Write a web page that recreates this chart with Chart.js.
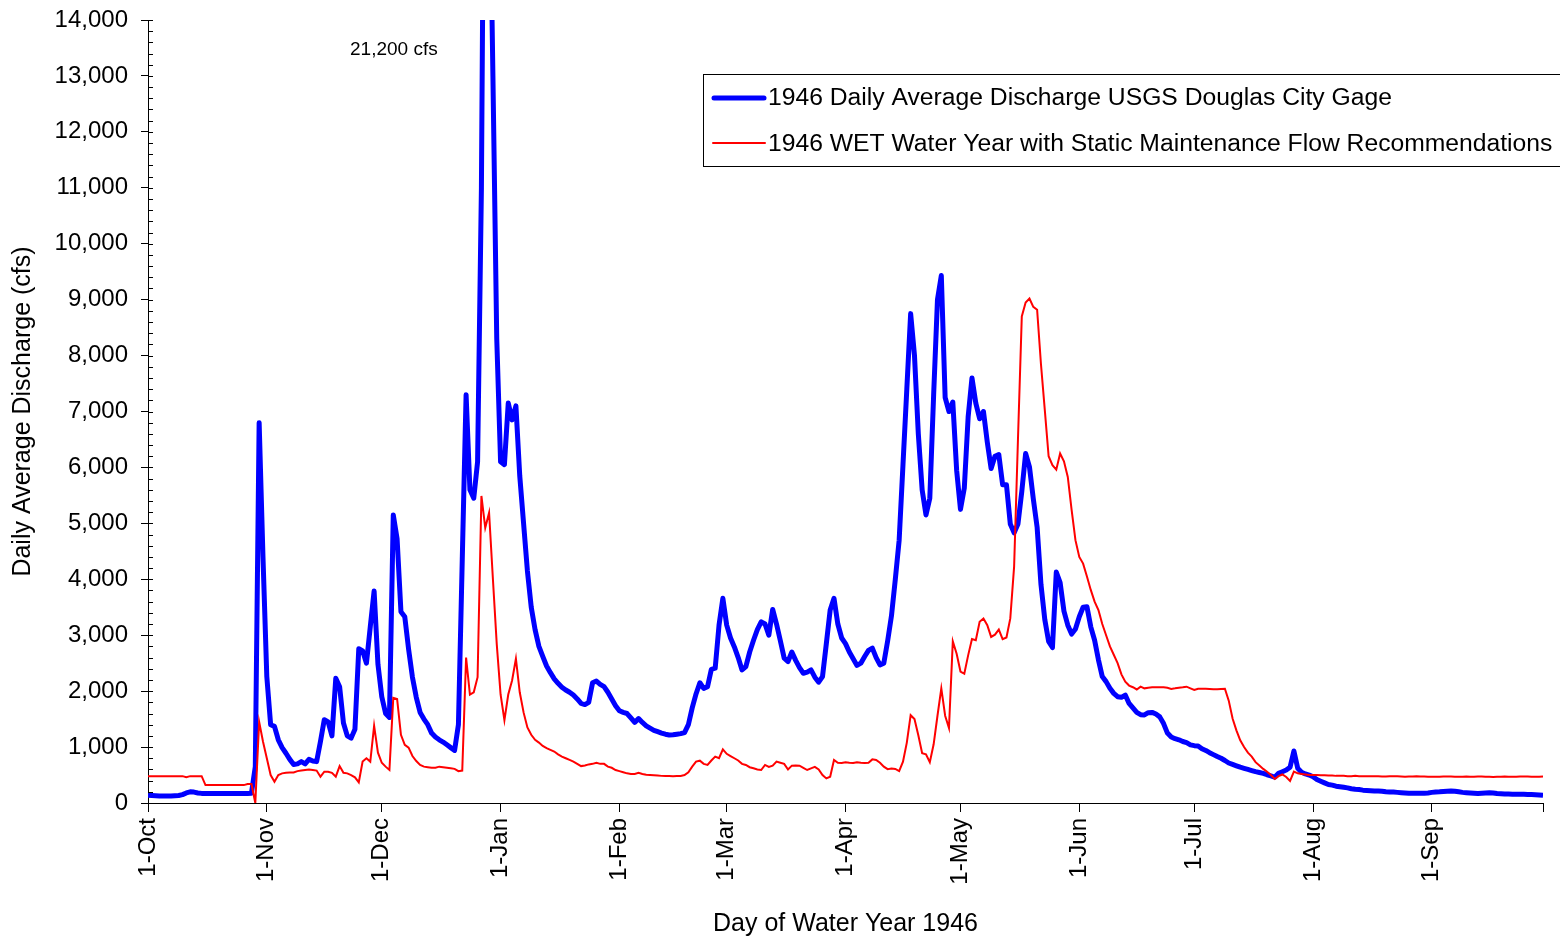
<!DOCTYPE html>
<html>
<head>
<meta charset="utf-8">
<title>1946 Daily Average Discharge</title>
<script src="https://cdn.jsdelivr.net/npm/chart.js@4.4.0/dist/chart.umd.min.js"></script>
<style>
  body { margin: 0; background: #fff; }
  #wrap { width: 1560px; height: 942px; position: relative; }
</style>
</head>
<body>
<div id="wrap"><canvas id="flowChart"></canvas></div>
<script>
// month start labels along the x axis
const monthLabels = ['1-Oct', '1-Nov', '1-Dec', '1-Jan', '1-Feb', '1-Mar', '1-Apr', '1-May', '1-Jun', '1-Jul', '1-Aug', '1-Sep'];
const yTicks = [0, 1000, 2000, 3000, 4000, 5000, 6000, 7000, 8000, 9000, 10000, 11000, 12000, 13000, 14000];

// 1946 daily average discharge, USGS Douglas City gage (cfs), one array per month
const gageOct = [140, 135, 130, 125, 125, 125, 125, 130, 135, 150, 180, 200, 195, 180, 172, 170, 170, 170, 170, 170, 170, 170, 170, 170, 170, 170, 170, 175, 650, 6800, 4400];
const gageNov = [2260, 1400, 1370, 1130, 990, 890, 780, 690, 700, 740, 700, 780, 750, 740, 1100, 1490, 1450, 1200, 2230, 2080, 1430, 1200, 1160, 1320, 2760, 2720, 2500, 3150, 3790, 2480];
const gageDec = [1900, 1600, 1530, 5150, 4720, 3420, 3330, 2750, 2250, 1890, 1620, 1500, 1400, 1250, 1180, 1130, 1090, 1040, 990, 940, 1400, 4350, 7300, 5600, 5450, 6100, 11000, 21200, 17500, 13000, 8300];
const gageJan = [6100, 6050, 7150, 6850, 7100, 5850, 5000, 4150, 3500, 3100, 2800, 2620, 2450, 2330, 2220, 2140, 2070, 2020, 1980, 1930, 1860, 1780, 1760, 1800, 2150, 2180, 2120, 2080, 1980, 1860, 1740];
const gageFeb = [1650, 1620, 1600, 1520, 1440, 1510, 1440, 1380, 1340, 1300, 1275, 1250, 1230, 1216, 1220, 1230, 1240, 1260, 1400, 1700, 1950, 2150, 2050, 2080, 2390, 2410, 3180, 3660];
const gageMar = [3180, 2950, 2790, 2600, 2380, 2440, 2700, 2910, 3100, 3240, 3200, 3000, 3460, 3200, 2900, 2590, 2530, 2700, 2550, 2420, 2320, 2340, 2380, 2250, 2160, 2260, 2850, 3450, 3660, 3200, 2950];
const gageApr = [2850, 2700, 2580, 2460, 2500, 2620, 2730, 2770, 2600, 2470, 2500, 2900, 3350, 4000, 4700, 6050, 7400, 8750, 8000, 6600, 5600, 5150, 5450, 7300, 9000, 9430, 7250, 7000, 7170, 5950];
const gageMay = [5250, 5630, 6900, 7600, 7150, 6870, 7000, 6450, 5980, 6200, 6230, 5690, 5690, 4990, 4830, 4990, 5570, 6250, 6010, 5440, 4930, 3910, 3280, 2890, 2780, 4130, 3940, 3430, 3180, 3020, 3110];
const gageJun = [3330, 3500, 3510, 3150, 2910, 2560, 2260, 2170, 2050, 1960, 1900, 1890, 1930, 1780, 1700, 1620, 1580, 1575, 1615, 1620, 1590, 1540, 1420, 1250, 1180, 1150, 1130, 1100, 1080, 1040];
const gageJul = [1025, 1020, 970, 940, 900, 865, 830, 800, 760, 715, 690, 665, 640, 620, 600, 580, 560, 545, 530, 505, 485, 460, 530, 560, 590, 640, 930, 620, 550, 520, 500];
const gageAug = [470, 420, 390, 360, 330, 320, 300, 290, 280, 270, 255, 245, 240, 230, 225, 220, 215, 215, 210, 200, 195, 195, 190, 185, 180, 175, 175, 173, 175, 175, 180];
const gageSep = [190, 197, 200, 205, 210, 215, 210, 200, 190, 185, 180, 175, 170, 175, 180, 185, 180, 170, 165, 160, 160, 158, 155, 155, 155, 152, 150, 148, 145, 140];

// 1946 WET water year with static maintenance flow recommendations (cfs)
const wetOct = [480, 480, 480, 480, 480, 480, 480, 480, 480, 480, 460, 480, 480, 480, 480, 320, 320, 320, 320, 320, 320, 320, 320, 320, 320, 320, 340, 340, 0, 1450, 1100];
const wetNov = [800, 500, 380, 500, 530, 540, 545, 545, 570, 580, 590, 600, 590, 580, 470, 560, 560, 540, 470, 660, 540, 530, 500, 460, 370, 740, 800, 740, 1380, 900];
const wetDec = [720, 650, 590, 1880, 1860, 1220, 1040, 990, 840, 750, 680, 650, 640, 630, 630, 650, 640, 630, 620, 610, 570, 580, 2600, 1940, 1980, 2250, 5490, 4920, 5190, 4000, 2840];
const wetJan = [1940, 1480, 1940, 2190, 2580, 1980, 1620, 1350, 1220, 1130, 1080, 1020, 980, 950, 920, 870, 830, 800, 770, 740, 700, 660, 670, 690, 700, 720, 700, 700, 650, 630, 590];
const wetFeb = [570, 550, 530, 520, 520, 540, 520, 505, 500, 495, 490, 485, 483, 483, 480, 483, 483, 500, 550, 650, 740, 757, 700, 680, 760, 830, 800, 960];
const wetMar = [880, 840, 800, 760, 700, 680, 640, 620, 600, 590, 680, 645, 668, 740, 720, 700, 600, 668, 670, 668, 630, 590, 620, 645, 600, 500, 440, 470, 770, 720, 715];
const wetApr = [730, 720, 715, 730, 720, 715, 720, 780, 770, 720, 650, 605, 615, 610, 570, 740, 1080, 1570, 1500, 1210, 890, 870, 730, 1050, 1560, 2050, 1560, 1340, 2890, 2670];
const wetMay = [2350, 2310, 2640, 2930, 2910, 3240, 3300, 3180, 2970, 3010, 3100, 2930, 2960, 3300, 4230, 6500, 8700, 8950, 9020, 8870, 8820, 7850, 7030, 6200, 6040, 5960, 6250, 6110, 5830, 5240, 4700];
const wetJun = [4400, 4280, 4050, 3810, 3600, 3450, 3200, 3000, 2800, 2650, 2500, 2300, 2170, 2100, 2070, 2030, 2080, 2050, 2060, 2068, 2068, 2068, 2068, 2060, 2040, 2050, 2062, 2070, 2080, 2050];
const wetJul = [2020, 2044, 2044, 2044, 2040, 2035, 2032, 2040, 2044, 1830, 1510, 1300, 1120, 1000, 900, 830, 730, 670, 610, 560, 500, 430, 480, 510, 465, 395, 560, 530, 520, 510, 500];
const wetAug = [500, 500, 495, 495, 490, 490, 485, 485, 485, 480, 480, 485, 480, 480, 478, 478, 480, 478, 475, 475, 478, 480, 478, 475, 470, 472, 475, 478, 475, 472, 470];
const wetSep = [470, 468, 470, 472, 475, 472, 470, 468, 470, 472, 470, 468, 472, 475, 470, 468, 465, 468, 470, 472, 470, 468, 470, 472, 475, 472, 470, 468, 470, 472];

const gageMonths = [gageOct, gageNov, gageDec, gageJan, gageFeb, gageMar, gageApr, gageMay, gageJun, gageJul, gageAug, gageSep];
const wetMonths = [wetOct, wetNov, wetDec, wetJan, wetFeb, wetMar, wetApr, wetMay, wetJun, wetJul, wetAug, wetSep];

const gage = [].concat(...gageMonths);
const wet = [].concat(...wetMonths);
const lastDay = gage.length - 1;

// day index of each month start
const monthStarts = [];
let dayCount = 0;
gageMonths.forEach(m => { monthStarts.push(dayCount); dayCount += m.length; });

const FONT = 'Arial, "Liberation Sans", sans-serif';

// minor ticks, legend box and peak note
const extrasPlugin = {
    id: 'extras',
    afterDraw(chart) {
        const ctx = chart.ctx;
        const yScale = chart.scales.y;
        const left = chart.chartArea.left;
        ctx.save();
        ctx.strokeStyle = '#000';
        ctx.lineWidth = 1;
        for (let v = 0; v <= 14000; v += 200) {
            const py = Math.round(yScale.getPixelForValue(v)) + 0.5;
            ctx.beginPath();
            ctx.moveTo(left, py);
            ctx.lineTo(left + 5, py);
            ctx.stroke();
        }

        // legend
        ctx.fillStyle = '#fff';
        ctx.fillRect(703, 74, 870, 93);
        ctx.strokeRect(703.5, 74.5, 870, 92);
        ctx.lineCap = 'round';
        ctx.strokeStyle = '#0000ff';
        ctx.lineWidth = 5;
        ctx.beginPath();
        ctx.moveTo(714, 98);
        ctx.lineTo(764, 98);
        ctx.stroke();
        ctx.strokeStyle = '#ff0000';
        ctx.lineWidth = 2;
        ctx.beginPath();
        ctx.moveTo(713, 143);
        ctx.lineTo(765, 143);
        ctx.stroke();
        ctx.fillStyle = '#000';
        ctx.font = '24.7px ' + FONT;
        ctx.textBaseline = 'middle';
        ctx.textAlign = 'left';
        ctx.fillText(chart.data.datasets[1].label, 768, 98);
        ctx.fillText(chart.data.datasets[0].label, 768, 144);

        ctx.font = '19px ' + FONT;
        ctx.fillText('21,200 cfs', 350, 50);
        ctx.restore();
    }
};

new Chart(document.getElementById('flowChart'), {
    type: 'line',
    data: {
        datasets: [
            {
                label: '1946 WET Water Year with Static Maintenance Flow Recommendations',
                data: wet.map((v, i) => ({ x: i, y: v })),
                borderColor: '#ff0000',
                borderWidth: 2,
                pointRadius: 0,
                tension: 0,
                order: 0
            },
            {
                label: '1946 Daily Average Discharge USGS Douglas City Gage',
                data: gage.map((v, i) => ({ x: i, y: v })),
                borderColor: '#0000ff',
                borderWidth: 5,
                borderJoinStyle: 'round',
                pointRadius: 0,
                tension: 0,
                order: 1
            }
        ]
    },
    options: {
        responsive: true,
        maintainAspectRatio: false,
        animation: false,
        layout: { padding: { top: 20, right: 17, left: 0, bottom: 0 } },
        plugins: {
            legend: { display: false },
            tooltip: { enabled: false }
        },
        scales: {
            x: {
                type: 'linear',
                min: 0,
                max: lastDay,
                afterBuildTicks: scale => {
                    scale.ticks = monthStarts.map(v => ({ value: v })).concat([{ value: lastDay }]);
                },
                afterFit: scale => {
                    scale.height = 139;
                    scale.paddingLeft = 0;
                    scale.paddingRight = 0;
                },
                ticks: {
                    autoSkip: false,
                    minRotation: 90,
                    maxRotation: 90,
                    padding: 6,
                    color: '#000',
                    font: { family: FONT, size: 24 },
                    callback: (value, index) => monthLabels[index] || ''
                },
                grid: { drawOnChartArea: false, tickLength: 9, color: '#000' },
                border: { color: '#000' },
                title: {
                    display: true,
                    text: 'Day of Water Year 1946',
                    color: '#000',
                    font: { family: FONT, size: 25 },
                    padding: { top: 0, bottom: 3 }
                }
            },
            y: {
                min: 0,
                max: 14000,
                afterBuildTicks: scale => {
                    scale.ticks = yTicks.map(v => ({ value: v }));
                },
                afterFit: scale => {
                    scale.width = 148;
                    scale.paddingTop = 0;
                    scale.paddingBottom = 0;
                },
                ticks: {
                    padding: 13,
                    color: '#000',
                    font: { family: FONT, size: 24 },
                    callback: value => value.toLocaleString('en-US')
                },
                grid: { drawOnChartArea: false, tickLength: 7, color: '#000' },
                border: { color: '#000' },
                title: {
                    display: true,
                    text: 'Daily Average Discharge (cfs)',
                    color: '#000',
                    font: { family: FONT, size: 25 },
                    padding: { top: 8, bottom: 0 }
                }
            }
        }
    },
    plugins: [extrasPlugin]
});
</script>
</body>
</html>
